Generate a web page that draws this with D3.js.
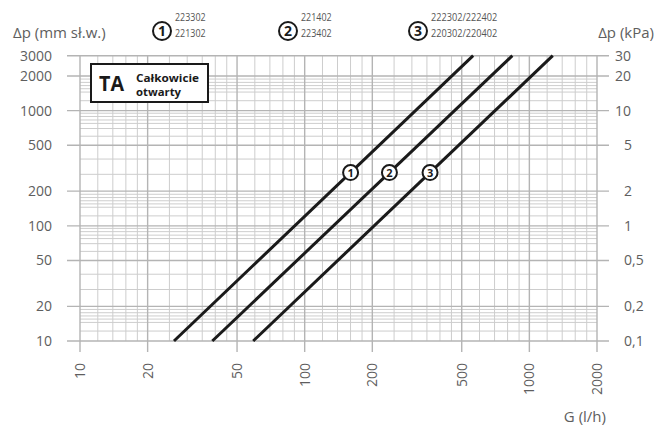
<!DOCTYPE html>
<html>
<head>
<meta charset="utf-8">
<script src="https://cdn.jsdelivr.net/npm/d3@7"></script>
<style>
  body { margin: 0; background: #fff; }
  text { font-family: "Open Sans", "Noto Sans", sans-serif; }
</style>
</head>
<body>
<div id="chart"></div>
<script>
// values
const xTicks = [10, 20, 50, 100, 200, 500, 1000, 2000];
const xMinor = [12, 14, 16, 18, 25, 30, 35, 40, 45, 60, 70, 80, 90,
  120, 140, 160, 180, 250, 300, 350, 400, 450, 600, 700, 800, 900,
  1200, 1400, 1600, 1800];
const yTicks = [10, 20, 50, 100, 200, 500, 1000, 2000, 3000];
const yTicksKpa = ["0,1", "0,2", "0,5", "1", "2", "5", "10", "20", "30"];
const yMinorMant = [1.22, 1.45, 1.55, 1.65, 1.76, 1.88, 2.8, 3.8, 6, 7, 7.75, 8.3, 8.9, 9.5];
const yDecades = [10, 100, 1000];

// G (l/h) at dp = 10 and 3000 mm
const line1 = [[26.2, 10], [562, 3000]];
const line2 = [[38.8, 10], [840, 3000]];
const line3 = [[59, 10], [1271, 3000]];
const markerDp = 290;

const legend = [
  {n: "1", codes: ["223302", "221302"]},
  {n: "2", codes: ["221402", "223402"]},
  {n: "3", codes: ["222302/222402", "220302/220402"]}
];

const width = 659, height = 426;
const svg = d3.select("#chart").append("svg")
  .attr("width", width).attr("height", height);

const x = d3.scaleLog().domain([10, 2000]).range([80, 597]);
const y = d3.scaleLog().domain([10, 3000]).range([341, 55.7]);

// minor horizontal lines stop at 2000 (nothing between 2000 and 3000)
const yMinor = [];
yDecades.forEach(d => yMinorMant.forEach(m => {
  if (d * m < 2000) yMinor.push(d * m);
}));

const grid = svg.append("g");
grid.selectAll(".hmin").data(yMinor).enter().append("line")
  .attr("x1", x(10)).attr("x2", x(2000))
  .attr("y1", d => y(d)).attr("y2", d => y(d))
  .attr("stroke", "#cdcdcd").attr("stroke-width", 1);
grid.selectAll(".vmin").data(xMinor).enter().append("line")
  .attr("x1", d => x(d)).attr("x2", d => x(d))
  .attr("y1", y(3000)).attr("y2", y(10))
  .attr("stroke", "#cdcdcd").attr("stroke-width", 1);
grid.selectAll(".hmaj").data(yTicks).enter().append("line")
  .attr("x1", 67).attr("x2", 609)
  .attr("y1", d => y(d)).attr("y2", d => y(d))
  .attr("stroke", "#b4b4b4").attr("stroke-width", 1.4);
grid.selectAll(".vmaj").data(xTicks).enter().append("line")
  .attr("x1", d => x(d)).attr("x2", d => x(d))
  .attr("y1", y(3000)).attr("y2", 352)
  .attr("stroke", "#b4b4b4").attr("stroke-width", 1.4);

// tick labels
const lab = svg.append("g").attr("fill", "#5e5e5e").attr("font-size", 14);
lab.selectAll(".yl").data(yTicks).enter().append("text")
  .attr("x", 52).attr("y", d => y(d)).attr("dy", "0.35em")
  .attr("text-anchor", "end").text(d => d);
lab.selectAll(".yr").data(yTicks).enter().append("text")
  .attr("x", d => d >= 1000 ? 615 : 624).attr("y", d => y(d)).attr("dy", "0.35em")
  .text((d, i) => yTicksKpa[i]);
lab.selectAll(".xl").data(xTicks).enter().append("text")
  .attr("transform", d => `translate(${x(d)},363) rotate(-90)`)
  .attr("text-anchor", "end").attr("dy", "0.35em").text(d => d);

lab.append("text").attr("x", 13).attr("y", 38).attr("font-size", 15).text("Δp (mm sł.w.)");
lab.append("text").attr("x", 654).attr("y", 38).attr("font-size", 15)
  .attr("text-anchor", "end").text("Δp (kPa)");
lab.append("text").attr("x", 606).attr("y", 422).attr("font-size", 15)
  .attr("text-anchor", "end").text("G (l/h)");

// curves
const lineGen = d3.line().x(d => x(d[0])).y(d => y(d[1]));
const series = [line1, line2, line3];
svg.append("g").selectAll("path").data(series).enter().append("path")
  .attr("d", lineGen).attr("fill", "none")
  .attr("stroke", "#1a1a1a").attr("stroke-width", 3);

// markers on curves, interpolated in log space
const mk = svg.append("g").selectAll("g").data(series).enter().append("g")
  .attr("transform", d => {
    const t = (Math.log(markerDp) - Math.log(d[0][1])) / (Math.log(d[1][1]) - Math.log(d[0][1]));
    const g = Math.exp(Math.log(d[0][0]) + t * (Math.log(d[1][0]) - Math.log(d[0][0])));
    return `translate(${x(g)},${y(markerDp)})`;
  });
mk.append("circle").attr("r", 7.5).attr("fill", "#fff")
  .attr("stroke", "#1a1a1a").attr("stroke-width", 2);
mk.append("text").attr("text-anchor", "middle").attr("dy", "0.36em")
  .attr("font-size", 11).attr("font-weight", "bold").attr("fill", "#1a1a1a")
  .text((d, i) => i + 1);

// header legend
const legX = [162, 288, 418];
const lg = svg.append("g").selectAll("g").data(legend).enter().append("g")
  .attr("transform", (d, i) => `translate(${legX[i]},31)`);
lg.append("circle").attr("r", 9).attr("fill", "#fff")
  .attr("stroke", "#1a1a1a").attr("stroke-width", 2);
lg.append("text").attr("text-anchor", "middle").attr("dy", "0.36em")
  .attr("font-size", 14).attr("font-weight", "bold").attr("fill", "#1a1a1a")
  .text(d => d.n);
lg.each(function(d) {
  d.codes.forEach((c, j) => {
    d3.select(this).append("text")
      .attr("x", 13).attr("y", j === 0 ? -14 : 2).attr("dy", "0.35em")
      .attr("font-size", 11).attr("fill", "#555")
      .attr("textLength", c.length * 5.1).attr("lengthAdjust", "spacingAndGlyphs")
      .text(c);
  });
});

// TA box
const box = svg.append("g");
box.append("rect").attr("x", 91).attr("y", 64).attr("width", 117).attr("height", 38)
  .attr("fill", "#fff").attr("stroke", "#1a1a1a").attr("stroke-width", 2);
box.append("text").attr("x", 99).attr("y", 91).attr("font-size", 21)
  .attr("font-weight", "bold").attr("fill", "#1a1a1a")
  .attr("textLength", 25).attr("lengthAdjust", "spacingAndGlyphs").text("TA");
box.append("text").attr("x", 136).attr("y", 81.5).attr("font-size", 10.5)
  .attr("font-weight", "bold").attr("fill", "#1a1a1a")
  .attr("textLength", 63).attr("lengthAdjust", "spacingAndGlyphs").text("Całkowicie");
box.append("text").attr("x", 136).attr("y", 95.5).attr("font-size", 10.5)
  .attr("font-weight", "bold").attr("fill", "#1a1a1a")
  .attr("textLength", 45).attr("lengthAdjust", "spacingAndGlyphs").text("otwarty");
</script>
</body>
</html>
